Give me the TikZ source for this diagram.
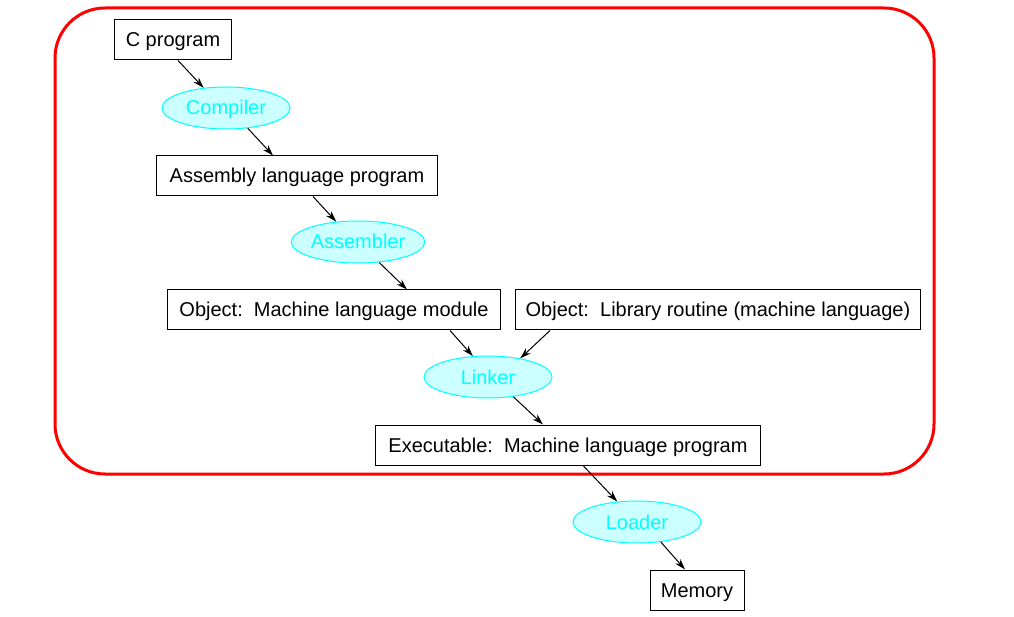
\documentclass[tikz,border=0pt]{standalone}
\usepackage{fontspec}
\setmainfont{Liberation Sans}
\usetikzlibrary{shapes.geometric, arrows.meta, positioning}
\definecolor{toolfill}{HTML}{CCFFFF}
\definecolor{tooltext}{HTML}{00FFFF}

\begin{document}
\begin{tikzpicture}[
    x=1pt, y=-1pt,
    on grid,
    every node/.style={font=\fontsize{20}{24}\selectfont,
                       text height=14pt, text depth=0pt},
    file/.style={rectangle, draw, line width=1pt, minimum height=40pt,
                 inner xsep=10pt},
    tool/.style={ellipse, draw=tooltext, fill=toolfill, text=tooltext,
                 line width=1pt, minimum width=128pt, minimum height=42pt,
                 inner sep=0pt},
    arr/.style={-{Stealth[length=11pt, width=7pt]}, line width=1pt},
    frame/.style={draw=red, line width=3pt, rounded corners=50pt}
]
    \useasboundingbox (0,0) rectangle (1014,617);
    \draw[frame] (55,8) rectangle (934,474);

    \node[file, minimum width=117pt] (cprog) at (173,40) {C program};
    \node[tool, below right=68pt and 53pt of cprog]   (compiler)  {Compiler};
    \node[file, minimum width=281pt, below right=68pt and 71pt of compiler]
        (asmprog) {Assembly language program};
    \node[tool, below right=66pt and 61pt of asmprog] (assembler) {Assembler};
    \node[file, minimum width=333pt, below left=68pt and 24pt of assembler]
        (objmod)  {Object:\ \ Machine language module};
    \node[file, minimum width=405pt, right=384pt of objmod]
        (objlib)  {Object:\ \ Library routine (machine language)};
    \node[tool, below right=67pt and 154pt of objmod] (linker)    {Linker};
    \node[file, minimum width=385pt, below right=68pt and 80pt of linker]
        (exec)    {Executable:\ \ Machine language program};
    \node[tool, below right=77pt and 69pt of exec]    (loader)    {Loader};
    \node[file, minimum width=94pt, below right=68pt and 60pt of loader]
        (memory)  {Memory};

    % short edges, from just below the tail to just above the head
    \draw[arr] ([xshift=5pt]cprog.south)     -- (compiler.138);
    \draw[arr] (compiler.-43)                -- ([xshift=-24pt]asmprog.north);
    \draw[arr] ([xshift=16pt]asmprog.south)  -- (assembler.137);
    \draw[arr] (assembler.-44)               -- ([xshift=73pt]objmod.north);
    \draw[arr] ([xshift=116pt]objmod.south)  -- (linker.126);
    \draw[arr] ([xshift=-168pt]objlib.south) -- (linker.30);
    \draw[arr] (linker.-38)                  -- ([xshift=-25pt]exec.north);
    \draw[arr] ([xshift=15pt]exec.south)     -- (loader.134);
    \draw[arr] (loader.-40)                  -- ([xshift=-12pt]memory.north);
\end{tikzpicture}
\end{document}
